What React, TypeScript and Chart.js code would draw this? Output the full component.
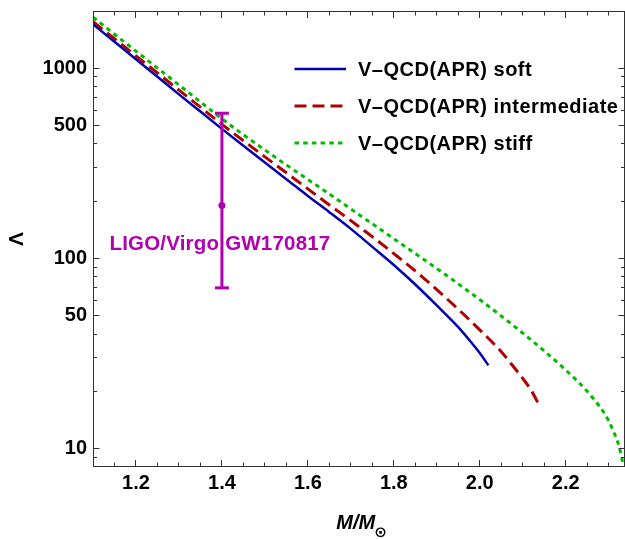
import React, { useEffect, useRef } from 'react';
import { Chart, registerables } from 'chart.js';

Chart.register(...registerables);

// ---- data ----
const softMass = [1.10, 1.15, 1.20, 1.25, 1.30, 1.35, 1.40, 1.45, 1.50, 1.55, 1.60, 1.65, 1.70, 1.75, 1.80, 1.85, 1.90, 1.95, 1.98, 2.00, 2.02];
const softLambda = [1704, 1377, 1114, 902, 729, 592, 480, 391, 319, 261, 213, 175, 143, 115, 92.3, 72.9, 56.6, 43.5, 36.2, 31.8, 27.4];

const interMass = [1.10, 1.15, 1.20, 1.25, 1.30, 1.35, 1.40, 1.45, 1.50, 1.55, 1.60, 1.65, 1.70, 1.75, 1.80, 1.85, 1.90, 1.95, 2.00, 2.05, 2.08, 2.10, 2.12, 2.14];
const interLambda = [1758, 1429, 1161, 944, 767, 624, 507, 416, 342, 282, 232, 191, 158, 130, 106, 85.9, 68.5, 54, 42.1, 32.3, 26.7, 23.4, 20.2, 16.6];

const stiffMass = [1.10, 1.15, 1.20, 1.25, 1.30, 1.35, 1.40, 1.45, 1.50, 1.55, 1.60, 1.65, 1.70, 1.75, 1.80, 1.85, 1.90, 1.95, 2.00, 2.05, 2.10, 2.15, 2.20, 2.25, 2.28, 2.29, 2.30, 2.31, 2.32, 2.325, 2.33, 2.333];
const stiffLambda = [1854, 1510, 1230, 1002, 817, 665, 542, 447, 372, 310, 260, 218, 182, 152, 127, 106, 88.5, 73.5, 60.7, 49.8, 40.5, 32.6, 25.9, 20, 16.5, 15.3, 14.0, 12.5, 11.0, 10.1, 9.0, 8.4];

const gwMass = 1.4;
const gwLambda = 190;
const gwLower = 70;
const gwUpper = 580;

const seriesLabels = ['V\u2013QCD(APR) soft', 'V\u2013QCD(APR) intermediate', 'V\u2013QCD(APR) stiff'];
const gwLabel = 'LIGO/Virgo GW170817';
const xTitle = 'M/M';
const xTitleSub = '\u2299';
const yTitle = '\u039B';

const xTickLabels = [1.2, 1.4, 1.6, 1.8, 2.0, 2.2];
const xMinorTicks = [1.15, 1.25, 1.3, 1.35, 1.45, 1.5, 1.55, 1.65, 1.7, 1.75, 1.85, 1.9, 1.95, 2.05, 2.1, 2.15, 2.25, 2.3];
const yTickLabels = [10, 50, 100, 500, 1000];
const yMinorTicks = [9, 20, 30, 40, 60, 70, 80, 90, 200, 300, 400, 600, 700, 800, 900];

// ---- styles ----
const FONT = '"Liberation Sans", Arial, Helvetica, "DejaVu Sans", sans-serif';
const BLUE = '#0000b0';
const RED = '#b00000';
const GREEN = '#00bb00';
const MAGENTA = '#b000b0';
const FRAME = '#333333';

const pts = (xs: number[], ys: number[]) => xs.map((x, i) => ({ x, y: ys[i] }));

const zeroPad = (s: any) => {
  s.paddingLeft = 0;
  s.paddingRight = 0;
  s.paddingTop = 0;
  s.paddingBottom = 0;
};

const decorPlugin = {
  id: 'decor',
  afterDraw(chart: any) {
    const { ctx, chartArea: a, scales } = chart;
    const xs = scales.x;
    const ys = scales.y;
    ctx.save();
    // frame
    ctx.strokeStyle = FRAME;
    ctx.lineWidth = 1;
    ctx.strokeRect(a.left + 0.5, a.top + 0.5, a.right - a.left - 1, a.bottom - a.top - 1);
    // ticks (inward, all four sides)
    ctx.beginPath();
    const xt = (v: number, len: number) => {
      const p = Math.floor(xs.getPixelForValue(v)) + 0.5;
      ctx.moveTo(p, a.bottom);
      ctx.lineTo(p, a.bottom - len);
      ctx.moveTo(p, a.top);
      ctx.lineTo(p, a.top + len);
    };
    const yt = (v: number, len: number) => {
      const p = Math.floor(ys.getPixelForValue(v)) + 0.5;
      ctx.moveTo(a.left, p);
      ctx.lineTo(a.left + len, p);
      ctx.moveTo(a.right, p);
      ctx.lineTo(a.right - len, p);
    };
    xTickLabels.forEach((v) => xt(v, 7));
    xMinorTicks.forEach((v) => xt(v, 4.5));
    yTickLabels.forEach((v) => yt(v, 6.5));
    yMinorTicks.forEach((v) => yt(v, 4));
    ctx.stroke();

    // legend
    const legendX0 = a.left + 201.5;
    const legendX1 = a.left + 253;
    const textX = a.left + 265;
    const rowY = [69, 106, 143];
    ctx.font = `bold 20px ${FONT}`;
    (ctx as any).letterSpacing = '0.5px';
    ctx.textAlign = 'left';
    ctx.textBaseline = 'middle';
    [0, 1, 2].forEach((i) => {
      const ds = chart.data.datasets[i + 2];
      ctx.save();
      ctx.strokeStyle = ds.borderColor;
      ctx.lineWidth = ds.borderWidth;
      ctx.setLineDash(ds.borderDash || []);
      ctx.lineCap = 'butt';
      ctx.beginPath();
      ctx.moveTo(legendX0, rowY[i]);
      ctx.lineTo(legendX1, rowY[i]);
      ctx.stroke();
      ctx.restore();
      ctx.fillStyle = '#000';
      ctx.fillText(ds.label, textX, rowY[i] + 1);
    });

    // annotation
    ctx.fillStyle = MAGENTA;
    ctx.font = `bold 20.5px ${FONT}`;
    (ctx as any).letterSpacing = '0.2px';
    ctx.textAlign = 'center';
    ctx.textBaseline = 'alphabetic';
    ctx.fillText(gwLabel, xs.getPixelForValue(gwMass) - 2, ys.getPixelForValue(100) - 8);
    (ctx as any).letterSpacing = '0px';

    // axis titles
    ctx.fillStyle = '#000';
    ctx.save();
    ctx.translate(17, (a.top + a.bottom) / 2);
    ctx.rotate(-Math.PI / 2);
    ctx.font = `bold 21px ${FONT}`;
    ctx.textAlign = 'center';
    ctx.textBaseline = 'middle';
    ctx.fillText(yTitle, 0, 0);
    ctx.restore();

    ctx.font = `italic bold 20px ${FONT}`;
    const w1 = ctx.measureText(xTitle).width;
    ctx.font = `bold 15px "DejaVu Sans", ${FONT}`;
    const w2 = ctx.measureText(xTitleSub).width;
    const cx = (a.left + a.right) / 2 + 3;
    const startX = cx - (w1 + w2) / 2;
    ctx.textAlign = 'left';
    ctx.textBaseline = 'alphabetic';
    ctx.font = `italic bold 20px ${FONT}`;
    ctx.fillText(xTitle, startX, 529);
    ctx.font = `bold 15px "DejaVu Sans", ${FONT}`;
    ctx.fillText(xTitleSub, startX + w1 - 1, 537);
    ctx.restore();
  },
};

export default function App() {
  const canvasRef = useRef<HTMLCanvasElement | null>(null);

  useEffect(() => {
    const canvas = canvasRef.current;
    if (!canvas) return;
    const tickFont = { family: FONT, size: 20, weight: 'bold' as const };
    const chart = new Chart(canvas, {
      type: 'line',
      data: {
        datasets: [
          {
            label: 'GW170817 range',
            data: [{ x: gwMass, y: gwLower }, { x: gwMass, y: gwUpper }],
            borderColor: MAGENTA,
            borderWidth: 3,
            pointStyle: 'line',
            pointRadius: 7,
            pointBorderWidth: 3,
            pointBorderColor: MAGENTA,
            tension: 0,
          },
          {
            label: 'GW170817',
            data: [{ x: gwMass, y: gwLambda }],
            showLine: false,
            pointRadius: 3.5,
            pointBackgroundColor: MAGENTA,
            pointBorderWidth: 0,
          },
          {
            label: seriesLabels[0],
            data: pts(softMass, softLambda),
            borderColor: BLUE,
            borderWidth: 2.5,
            pointRadius: 0,
            cubicInterpolationMode: 'monotone',
          },
          {
            label: seriesLabels[1],
            data: pts(interMass, interLambda),
            borderColor: RED,
            borderWidth: 3,
            borderDash: [12, 6],
            pointRadius: 0,
            cubicInterpolationMode: 'monotone',
          },
          {
            label: seriesLabels[2],
            data: pts(stiffMass, stiffLambda),
            borderColor: GREEN,
            borderWidth: 3,
            borderDash: [4.5, 4.2],
            pointRadius: 0,
            cubicInterpolationMode: 'monotone',
          },
        ],
      },
      options: {
        responsive: false,
        animation: false,
        devicePixelRatio: 1,
        layout: { autoPadding: false, padding: { top: 11, right: 0, left: 0, bottom: 0 } },
        plugins: { legend: { display: false }, tooltip: { enabled: false } },
        scales: {
          x: {
            type: 'linear',
            min: 1.1,
            max: 2.338,
            grid: { display: false, drawTicks: false },
            border: { display: false },
            ticks: {
              font: tickFont,
              color: '#000',
              padding: 4,
              maxRotation: 0,
              autoSkip: false,
              callback: (v: any) => Number(v).toFixed(1),
            },
            afterBuildTicks: (s: any) => {
              s.ticks = xTickLabels.map((v) => ({ value: v }));
            },
            afterFit: (s: any) => {
              s.height = 72;
              zeroPad(s);
            },
          },
          y: {
            type: 'logarithmic',
            min: 8,
            max: 2000,
            grid: { display: false, drawTicks: false },
            border: { display: false },
            ticks: {
              font: tickFont,
              color: '#000',
              padding: 6,
              autoSkip: false,
              callback: (v: any) => String(v),
            },
            afterBuildTicks: (s: any) => {
              s.ticks = yTickLabels.map((v) => ({ value: v }));
            },
            afterFit: (s: any) => {
              s.width = 93;
              zeroPad(s);
            },
          },
        },
      },
      plugins: [decorPlugin],
    });
    return () => chart.destroy();
  }, []);

  return (
    <div style={{ position: 'fixed', left: 0, top: 0, width: 625, height: 539, background: '#fff' }}>
      <canvas ref={canvasRef} width={625} height={539} style={{ width: 625, height: 539, display: 'block' }} />
    </div>
  );
}
